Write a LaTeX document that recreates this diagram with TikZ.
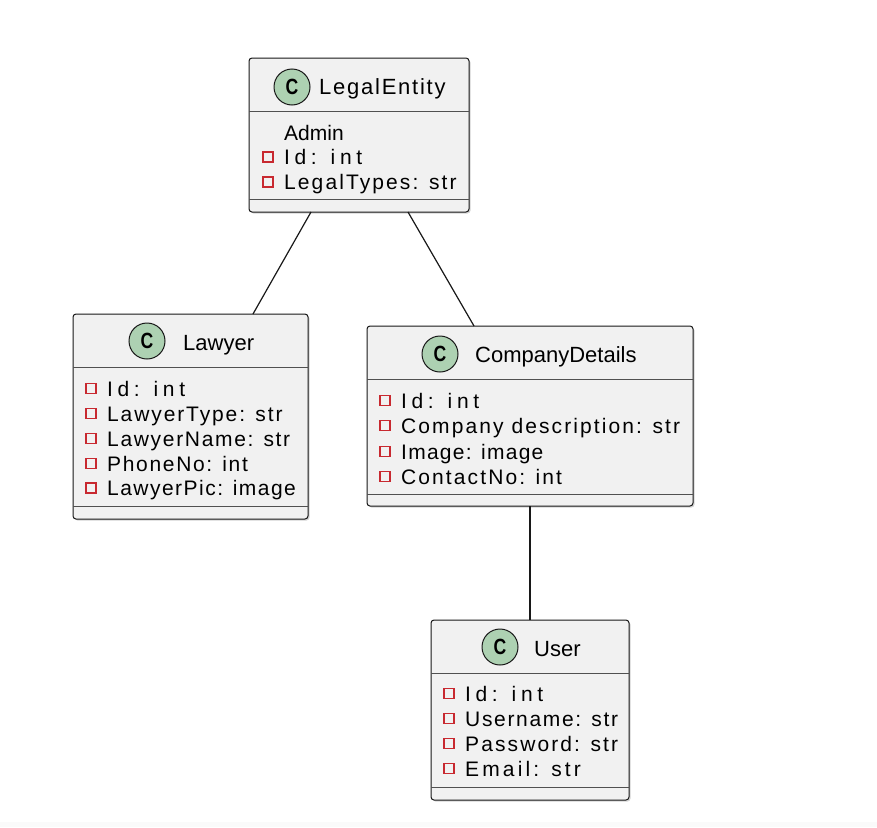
\documentclass[tikz,border=0pt]{standalone}
\usepackage{fontspec}
\setmainfont{Liberation Sans}
\usetikzlibrary{shadows}

\definecolor{umlline}{HTML}{181818}
\definecolor{umlfill}{HTML}{F1F1F1}
\definecolor{umlsep}{HTML}{505050}
\definecolor{classmark}{HTML}{ADD1B2}
\definecolor{privred}{HTML}{C82930}
\definecolor{pagefoot}{HTML}{FAFAFA}

% one private attribute: red square marker followed by its text
\newcommand\umlmember[5]{%
  \node[privmark] (#1-m) at (#2-16,#3-7.5) {};
  \node[memb] (#1) at (#2,#3) {\addfontfeatures{LetterSpace=#4}#5};
}

\begin{document}
\begin{tikzpicture}[x=1pt,y=-1pt,
  classbox/.style={draw=umlline, fill=umlfill, rounded corners=3pt,
    line width=1pt, inner sep=0pt, outer sep=0pt,
    drop shadow={shadow xshift=1.5pt, shadow yshift=-1.5pt, opacity=0.35, fill=gray}},
  sepline/.style={draw=umlsep, line width=1pt},
  classicon/.style={circle, draw=umlline, fill=classmark, line width=1pt,
    minimum size=36pt, inner sep=0pt,
    font=\fontsize{22}{22}\selectfont\bfseries},
  ctitle/.style={anchor=base west, inner sep=0pt, font=\fontsize{22}{26}\selectfont},
  memb/.style={anchor=base west, inner sep=0pt, font=\fontsize{21}{25}\selectfont},
  privmark/.style={draw=privred, fill=umlfill, line width=1.3pt, minimum size=10pt, inner sep=0pt},
  assoc/.style={draw=umlline, line width=1.2pt}]

\useasboundingbox (0,0) rectangle (877,827);
\fill[pagefoot] (0,822) rectangle (877,827);

% ---------- LegalEntity ----------
\node[classbox, minimum width=220pt, minimum height=154pt] (le) at (359,135) {};
\draw[sepline] ([yshift=-53pt]le.north west) -- ([yshift=-53pt]le.north east);
\draw[sepline] ([yshift=13pt]le.south west) -- ([yshift=13pt]le.south east);
\node[classicon] (le-c) at (292,87) {\scalebox{0.8}[1]{C}};
\node[ctitle] (le-t) at (319,94) {\addfontfeatures{LetterSpace=8}LegalEntity};
\node[memb] (le-admin) at (284,140) {Admin};
\umlmember{le-id}{284}{164.5}{22}{Id: int}
\umlmember{le-types}{284}{189.5}{10}{LegalTypes: str}

% ---------- Lawyer ----------
\node[classbox, minimum width=235pt, minimum height=205pt] (lw) at (190.5,416.5) {};
\draw[sepline] ([yshift=-53pt]lw.north west) -- ([yshift=-53pt]lw.north east);
\draw[sepline] ([yshift=13pt]lw.south west) -- ([yshift=13pt]lw.south east);
\node[classicon] (lw-c) at (147,341) {\scalebox{0.8}[1]{C}};
\node[ctitle] (lw-t) at (183,350) {Lawyer};
\umlmember{lw-id}{107}{396}{22}{Id: int}
\umlmember{lw-type}{107}{421}{9}{LawyerType: str}
\umlmember{lw-name}{107}{446}{8}{LawyerName: str}
\umlmember{lw-phone}{107}{471}{8}{PhoneNo: int}
\umlmember{lw-pic}{107}{495.5}{7}{LawyerPic: image}

% ---------- CompanyDetails ----------
\node[classbox, minimum width=326pt, minimum height=180pt] (cd) at (530,416) {};
\draw[sepline] ([yshift=-53pt]cd.north west) -- ([yshift=-53pt]cd.north east);
\draw[sepline] ([yshift=12pt]cd.south west) -- ([yshift=12pt]cd.south east);
\node[classicon] (cd-c) at (440,354) {\scalebox{0.8}[1]{C}};
\node[ctitle] (cd-t) at (475,362) {CompanyDetails};
\umlmember{cd-id}{401}{408}{22}{Id: int}
\umlmember{cd-desc}{401}{433}{10}{Company description: str}
\umlmember{cd-img}{401}{459}{6}{Image: image}
\umlmember{cd-contact}{401}{484}{10}{ContactNo: int}

% ---------- User ----------
\node[classbox, minimum width=198pt, minimum height=180pt] (us) at (530,710) {};
\draw[sepline] ([yshift=-53pt]us.north west) -- ([yshift=-53pt]us.north east);
\draw[sepline] ([yshift=13pt]us.south west) -- ([yshift=13pt]us.south east);
\node[classicon] (us-c) at (500,647) {\scalebox{0.8}[1]{C}};
\node[ctitle] (us-t) at (534,656) {User};
\umlmember{us-id}{465}{701}{22}{Id: int}
\umlmember{us-name}{465}{726}{8}{Username: str}
\umlmember{us-pass}{465}{751}{10}{Password: str}
\umlmember{us-mail}{465}{776}{15}{Email: str}

% ---------- associations ----------
\draw[assoc] ([xshift=62pt]le.south west) -- ([xshift=180pt]lw.north west);
\draw[assoc] ([xshift=159pt]le.south west) -- ([xshift=107pt]cd.north west);
\draw[assoc] ([xshift=163pt]cd.south west) -- ([xshift=99pt]us.north west);

\end{tikzpicture}
\end{document}
